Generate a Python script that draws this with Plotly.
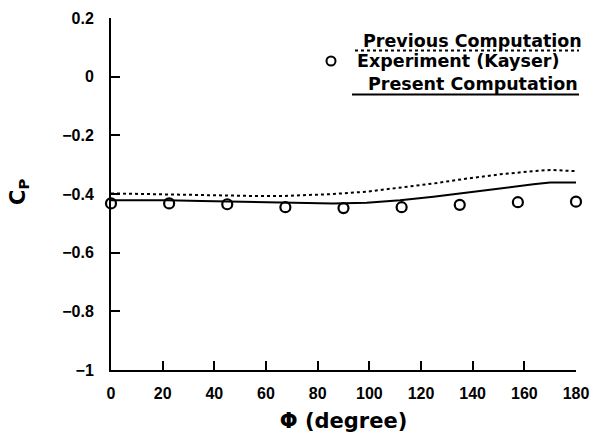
import plotly.graph_objects as go

# Experimental data (Kayser)
phi_exp = [0, 22.5, 45, 67.5, 90, 112.5, 135, 157.5, 180]
cp_exp = [-0.432, -0.432, -0.435, -0.445, -0.448, -0.445, -0.437, -0.428, -0.426]

# Previous computation
phi_prev = [0, 10, 21.5, 35, 47.4, 57, 66.7, 77, 86, 99, 112, 125, 138, 150.6, 163.5, 170, 180]
cp_prev = [-0.398, -0.400, -0.401, -0.404, -0.406, -0.407, -0.407, -0.404, -0.400, -0.392,
           -0.378, -0.364, -0.347, -0.333, -0.322, -0.318, -0.322]

# Present computation
phi_pres = [0, 10, 21.5, 35, 47.4, 60, 73.2, 86, 99, 111.9, 124.8, 137.7, 150.6, 163.5, 170, 180]
cp_pres = [-0.421, -0.421, -0.421, -0.424, -0.426, -0.429, -0.432, -0.432, -0.430, -0.421,
           -0.409, -0.394, -0.381, -0.367, -0.361, -0.361]

x_ticks = [0, 20, 40, 60, 80, 100, 120, 140, 160, 180]
y_ticks = [0.2, 0, -0.2, -0.4, -0.6, -0.8, -1]
y_tick_text = ["0.2", "0", "\u22120.2", "\u22120.4", "\u22120.6", "\u22120.8", "\u22121"]

FONT = "Liberation Sans"
WIDE = "DejaVu Sans"

# plot area in pixels (for placing the legend block in paper units)
L, R, T, B = 111, 576, 18, 370


def px(x):
    return (x - L) / (R - L)


def py(y):
    return (B - y) / (B - T)


fig = go.Figure()
fig.add_trace(go.Scatter(x=phi_prev, y=cp_prev, mode="lines",
                         line=dict(color="black", width=2, dash="dot"),
                         showlegend=False))
fig.add_trace(go.Scatter(x=phi_pres, y=cp_pres, mode="lines",
                         line=dict(color="black", width=2),
                         showlegend=False))
fig.add_trace(go.Scatter(x=phi_exp, y=cp_exp, mode="markers",
                         marker=dict(symbol="circle-open", size=10, color="black",
                                     line=dict(width=2.2, color="black")),
                         cliponaxis=False, showlegend=False))

# Legend: text sitting on top of its line sample
legend_font = dict(family=WIDE, size=17.5, color="black")
fig.add_annotation(xref="paper", yref="paper", x=px(584), y=py(41),
                   text="<b>Previous Computation</b>", showarrow=False,
                   xanchor="right", yanchor="middle", font=legend_font)
fig.add_shape(type="line", xref="paper", yref="paper",
              x0=px(355), x1=px(579), y0=py(50.5), y1=py(50.5),
              line=dict(color="black", width=2, dash="dot"))
fig.add_annotation(xref="paper", yref="paper", x=px(355), y=py(61),
                   text="<b>Experiment (Kayser)</b>", showarrow=False,
                   xanchor="left", yanchor="middle", font=legend_font)
fig.add_shape(type="circle", xref="paper", yref="paper",
              x0=px(326.5), x1=px(335.5), y0=py(56.5), y1=py(65.5),
              line=dict(color="black", width=2))
fig.add_annotation(xref="paper", yref="paper", x=px(580), y=py(84),
                   text="<b>Present Computation</b>", showarrow=False,
                   xanchor="right", yanchor="middle", font=legend_font)
fig.add_shape(type="line", xref="paper", yref="paper",
              x0=px(352), x1=px(579), y0=py(94.5), y1=py(94.5),
              line=dict(color="black", width=2))

# Y-axis title C_P
fig.add_annotation(xref="paper", yref="paper", x=px(19), y=py(192),
                   text="<b>C<sub>P</sub></b>", showarrow=False, textangle=-90,
                   xanchor="center", yanchor="middle",
                   font=dict(family=WIDE, size=21, color="black"))

fig.update_layout(
    width=595, height=434,
    margin=dict(l=L, r=595 - R, t=T, b=434 - B),
    paper_bgcolor="white", plot_bgcolor="white",
    font=dict(family=FONT, color="black"),
    xaxis=dict(range=[0, 180], tickvals=x_ticks,
               ticktext=[f"<b>{v}</b>" for v in x_ticks],
               automargin=False,
               showgrid=False, zeroline=False, showline=True,
               linecolor="black", linewidth=2,
               ticks="inside", ticklen=9, tickwidth=1.5, tickcolor="black",
               ticklabelstandoff=8,
               tickfont=dict(family=FONT, size=16, color="black"),
               title=dict(text="<b>\u03a6 (degree)</b>", standoff=12,
                          font=dict(family=WIDE, size=21, color="black"))),
    yaxis=dict(range=[-1, 0.2], tickvals=y_ticks,
               ticktext=[f"<b>{t}</b>" for t in y_tick_text],
               automargin=False,
               showgrid=False, zeroline=False, showline=True,
               linecolor="black", linewidth=2,
               ticks="inside", ticklen=9, tickwidth=1.5, tickcolor="black",
               ticklabelstandoff=12,
               tickfont=dict(family=FONT, size=16, color="black")),
)

fig.write_html("out.html")
